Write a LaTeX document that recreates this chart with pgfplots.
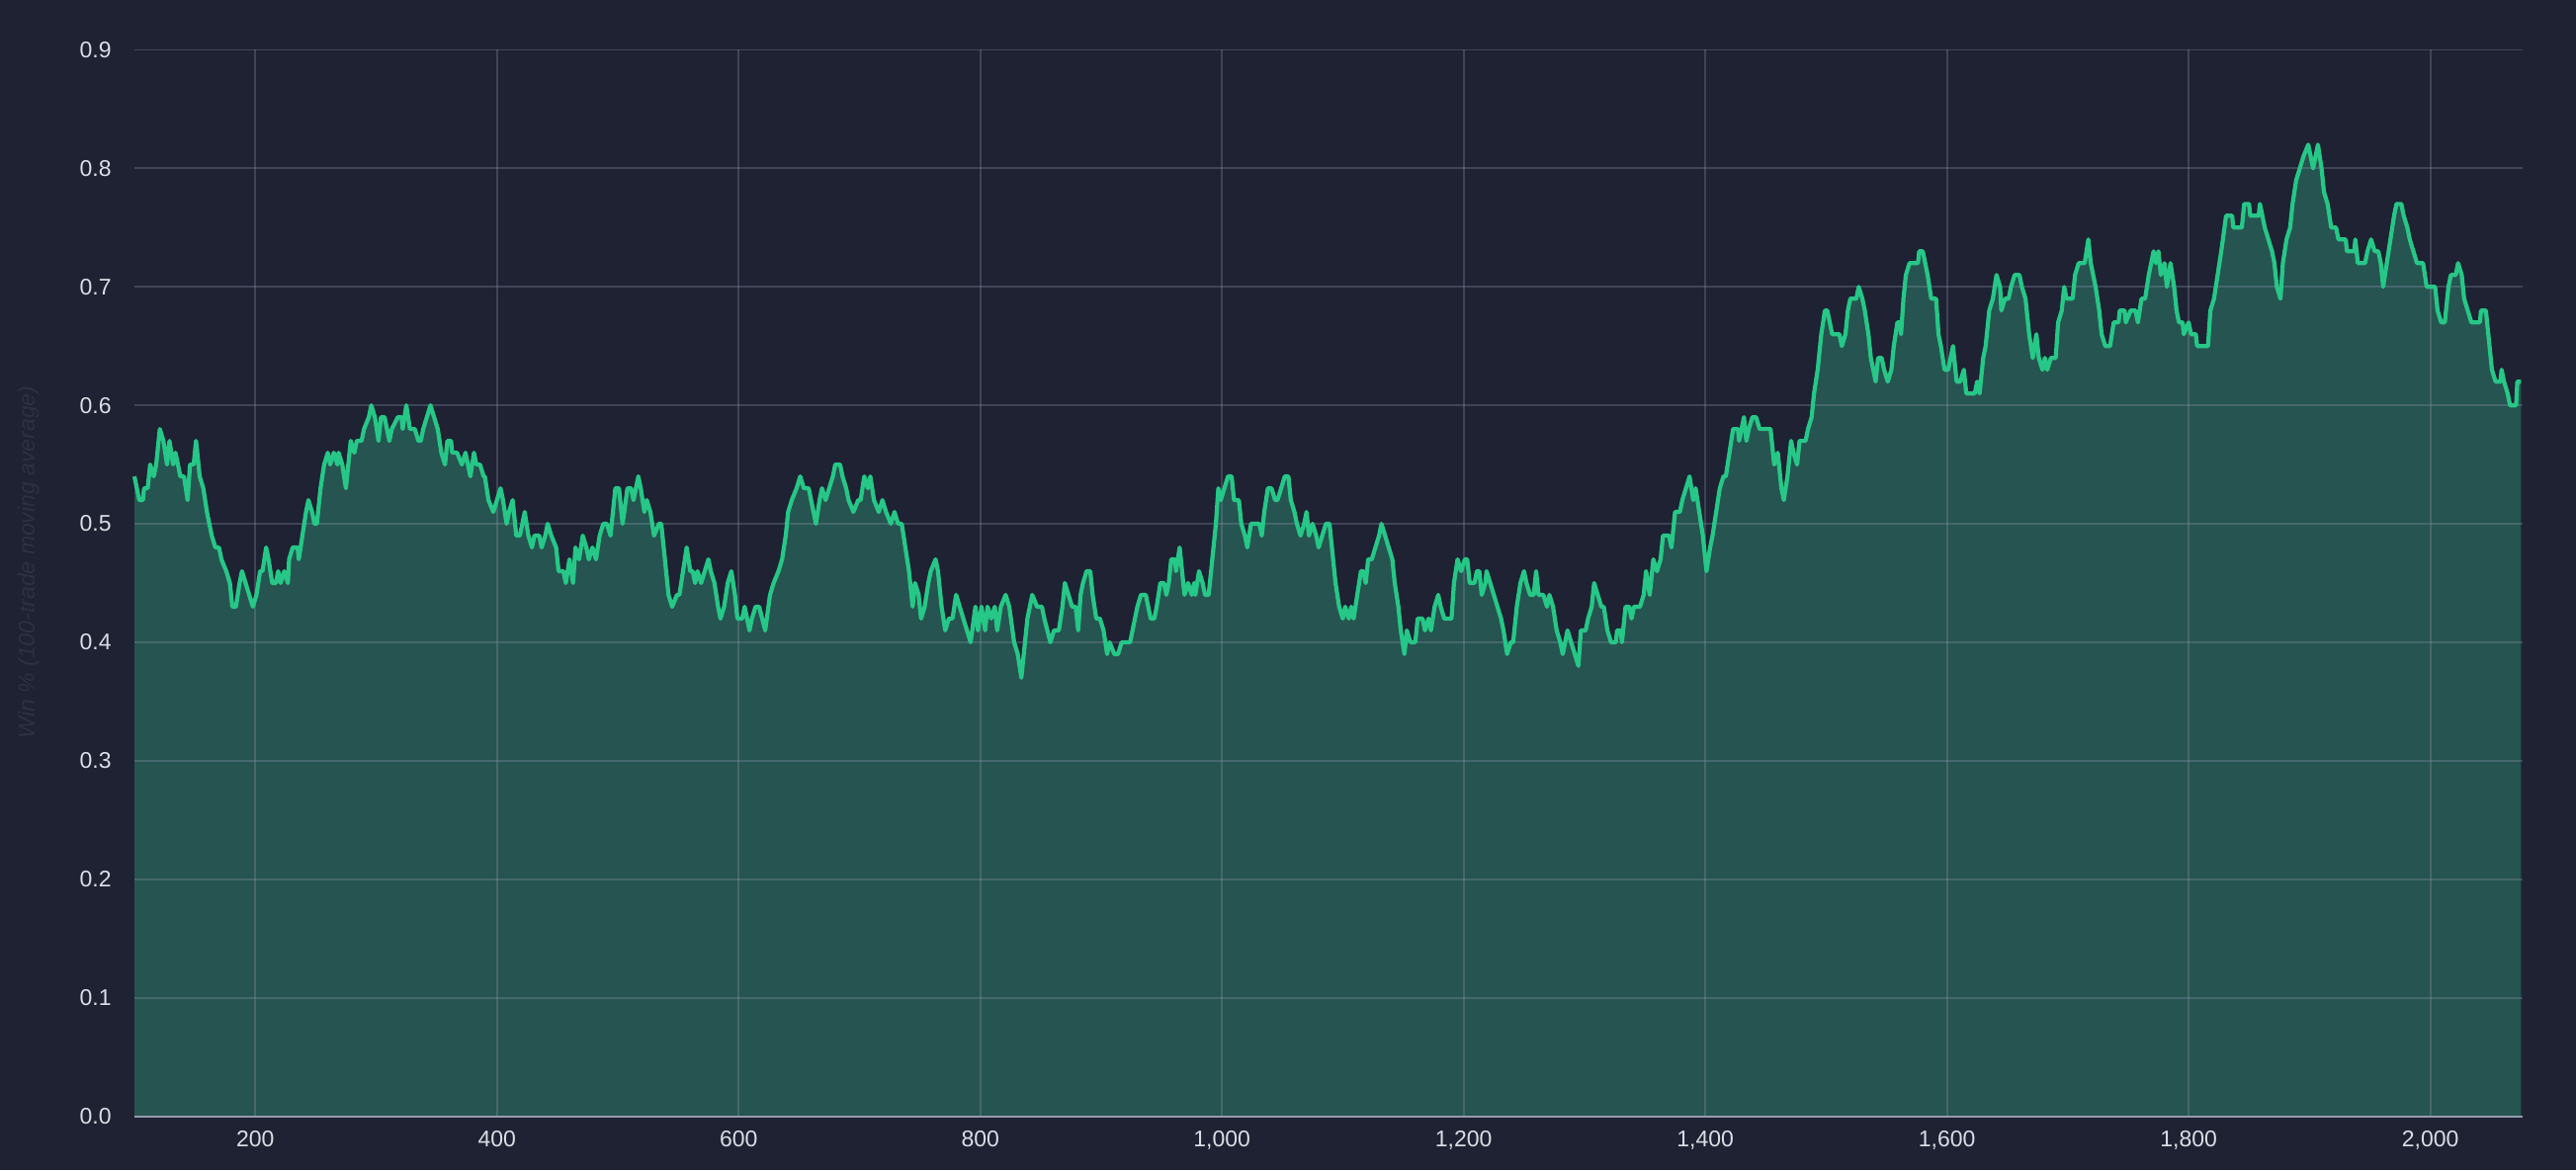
\documentclass[border=0pt]{standalone}
\usepackage{pgfplots}
\usepackage{pgfplotstable}
\pgfplotsset{compat=1.18}
\usepackage{fontspec}
\setmainfont{Liberation Sans}
\definecolor{bgc}{RGB}{30,34,51}
\definecolor{linec}{RGB}{38,199,135}
\definecolor{fillc}{RGB}{38,84,80}
\definecolor{gridc}{RGB}{150,157,182}
\definecolor{axisc}{RGB}{150,155,175}
\definecolor{tickc}{RGB}{218,222,230}
\definecolor{labc}{RGB}{44,49,67}
\pgfplotstableread[row sep=\\]{
x y\\
100 0.54\\ 104 0.52\\ 107 0.52\\ 108 0.53\\ 111 0.53\\ 113 0.55\\ 116 0.54\\ 118 0.55\\ 121 0.58\\ 124 0.57\\
127 0.55\\ 129 0.57\\ 132 0.55\\ 134 0.56\\ 136 0.55\\ 138 0.54\\ 141 0.54\\ 144 0.52\\ 146 0.55\\ 149 0.55\\
151 0.57\\ 154 0.54\\ 157 0.53\\ 160 0.51\\ 164 0.49\\ 167 0.48\\ 170 0.48\\ 172 0.47\\ 176 0.46\\ 179 0.45\\
181 0.43\\ 184 0.43\\ 187 0.45\\ 189 0.46\\ 192 0.45\\ 195 0.44\\ 198 0.43\\ 201 0.44\\ 204 0.46\\ 206 0.46\\
209 0.48\\ 211 0.47\\ 214 0.45\\ 217 0.45\\ 219 0.46\\ 221 0.45\\ 224 0.46\\ 227 0.45\\ 228 0.47\\ 231 0.48\\
235 0.48\\ 236 0.47\\ 239 0.49\\ 242 0.51\\ 244 0.52\\ 247 0.51\\ 249 0.50\\ 251 0.50\\ 254 0.53\\ 257 0.55\\
260 0.56\\ 262 0.55\\ 265 0.56\\ 268 0.55\\ 269 0.56\\ 272 0.55\\ 275 0.53\\ 277 0.55\\ 279 0.57\\ 282 0.56\\
284 0.57\\ 288 0.57\\ 290 0.58\\ 294 0.59\\ 296 0.60\\ 299 0.59\\ 302 0.57\\ 304 0.59\\ 307 0.59\\ 309 0.58\\
311 0.57\\ 313 0.58\\ 318 0.59\\ 321 0.59\\ 322 0.58\\ 325 0.60\\ 328 0.58\\ 332 0.58\\ 335 0.57\\ 337 0.57\\
339 0.58\\ 342 0.59\\ 345 0.60\\ 348 0.59\\ 351 0.58\\ 354 0.56\\ 357 0.55\\ 359 0.57\\ 362 0.57\\ 363 0.56\\
367 0.56\\ 371 0.55\\ 374 0.56\\ 378 0.54\\ 381 0.56\\ 383 0.55\\ 386 0.55\\ 389 0.54\\ 390 0.54\\ 393 0.52\\
397 0.51\\ 400 0.52\\ 403 0.53\\ 405 0.52\\ 408 0.50\\ 410 0.51\\ 413 0.52\\ 416 0.49\\ 419 0.49\\ 423 0.51\\
426 0.49\\ 429 0.48\\ 431 0.49\\ 435 0.49\\ 437 0.48\\ 440 0.49\\ 442 0.50\\ 445 0.49\\ 449 0.48\\ 451 0.46\\
455 0.46\\ 457 0.45\\ 460 0.47\\ 463 0.45\\ 465 0.48\\ 468 0.47\\ 471 0.49\\ 474 0.48\\ 476 0.47\\ 479 0.48\\
482 0.47\\ 485 0.49\\ 488 0.50\\ 491 0.50\\ 494 0.49\\ 498 0.53\\ 501 0.53\\ 504 0.50\\ 508 0.53\\ 511 0.53\\
513 0.52\\ 517 0.54\\ 519 0.53\\ 522 0.51\\ 524 0.52\\ 527 0.51\\ 530 0.49\\ 534 0.50\\ 536 0.50\\ 539 0.47\\
542 0.44\\ 545 0.43\\ 549 0.44\\ 551 0.44\\ 554 0.46\\ 557 0.48\\ 560 0.46\\ 562 0.46\\ 564 0.45\\ 566 0.46\\
569 0.45\\ 572 0.46\\ 575 0.47\\ 577 0.46\\ 580 0.45\\ 583 0.43\\ 585 0.42\\ 588 0.43\\ 591 0.45\\ 594 0.46\\
597 0.44\\ 599 0.42\\ 603 0.42\\ 605 0.43\\ 607 0.42\\ 609 0.41\\ 611 0.42\\ 614 0.43\\ 617 0.43\\ 622 0.41\\
626 0.44\\ 629 0.45\\ 633 0.46\\ 636 0.47\\ 639 0.49\\ 641 0.51\\ 644 0.52\\ 648 0.53\\ 651 0.54\\ 654 0.53\\
658 0.53\\ 660 0.52\\ 664 0.50\\ 667 0.52\\ 669 0.53\\ 672 0.52\\ 675 0.53\\ 678 0.54\\ 680 0.55\\ 684 0.55\\
686 0.54\\ 689 0.53\\ 691 0.52\\ 695 0.51\\ 699 0.52\\ 701 0.52\\ 704 0.54\\ 707 0.53\\ 709 0.54\\ 712 0.52\\
716 0.51\\ 719 0.52\\ 722 0.51\\ 726 0.50\\ 729 0.51\\ 732 0.50\\ 735 0.50\\ 738 0.48\\ 741 0.46\\ 744 0.43\\
746 0.45\\ 749 0.44\\ 751 0.42\\ 754 0.43\\ 757 0.45\\ 759 0.46\\ 763 0.47\\ 765 0.46\\ 768 0.43\\ 771 0.41\\
774 0.42\\ 777 0.42\\ 780 0.44\\ 783 0.43\\ 786 0.42\\ 789 0.41\\ 792 0.40\\ 796 0.43\\ 798 0.41\\ 801 0.43\\
804 0.41\\ 806 0.43\\ 809 0.42\\ 812 0.43\\ 814 0.41\\ 817 0.43\\ 821 0.44\\ 824 0.43\\ 828 0.40\\ 831 0.39\\
834 0.37\\ 836 0.39\\ 839 0.42\\ 843 0.44\\ 847 0.43\\ 851 0.43\\ 853 0.42\\ 858 0.40\\ 861 0.41\\ 865 0.41\\
868 0.43\\ 870 0.45\\ 873 0.44\\ 876 0.43\\ 879 0.43\\ 881 0.41\\ 883 0.44\\ 885 0.45\\ 888 0.46\\ 891 0.46\\
893 0.44\\ 896 0.42\\ 899 0.42\\ 902 0.41\\ 905 0.39\\ 907 0.40\\ 911 0.39\\ 914 0.39\\ 917 0.40\\ 924 0.40\\
926 0.41\\ 928 0.42\\ 930 0.43\\ 933 0.44\\ 937 0.44\\ 939 0.43\\ 941 0.42\\ 944 0.42\\ 946 0.43\\ 949 0.45\\
952 0.45\\ 954 0.44\\ 956 0.45\\ 958 0.47\\ 961 0.47\\ 962 0.46\\ 965 0.48\\ 967 0.46\\ 969 0.44\\ 972 0.45\\
975 0.44\\ 977 0.45\\ 978 0.44\\ 981 0.46\\ 984 0.45\\ 986 0.44\\ 989 0.44\\ 992 0.47\\ 995 0.50\\ 997 0.53\\
999 0.52\\ 1002 0.53\\ 1005 0.54\\ 1008 0.54\\ 1010 0.52\\ 1014 0.52\\ 1016 0.50\\ 1019 0.49\\ 1021 0.48\\ 1024 0.50\\
1031 0.50\\ 1033 0.49\\ 1035 0.51\\ 1038 0.53\\ 1041 0.53\\ 1044 0.52\\ 1046 0.52\\ 1049 0.53\\ 1052 0.54\\ 1055 0.54\\
1057 0.52\\ 1060 0.51\\ 1062 0.50\\ 1065 0.49\\ 1068 0.50\\ 1070 0.51\\ 1072 0.49\\ 1075 0.50\\ 1078 0.49\\ 1080 0.48\\
1083 0.49\\ 1086 0.50\\ 1089 0.50\\ 1091 0.48\\ 1094 0.45\\ 1097 0.43\\ 1100 0.42\\ 1102 0.43\\ 1105 0.42\\ 1107 0.43\\
1109 0.42\\ 1112 0.44\\ 1115 0.46\\ 1117 0.46\\ 1119 0.45\\ 1121 0.47\\ 1124 0.47\\ 1127 0.48\\ 1130 0.49\\ 1132 0.50\\
1135 0.49\\ 1138 0.48\\ 1141 0.47\\ 1143 0.45\\ 1146 0.43\\ 1148 0.41\\ 1151 0.39\\ 1153 0.41\\ 1156 0.40\\ 1160 0.40\\
1162 0.42\\ 1166 0.42\\ 1168 0.41\\ 1171 0.42\\ 1173 0.41\\ 1176 0.43\\ 1179 0.44\\ 1181 0.43\\ 1184 0.42\\ 1190 0.42\\
1192 0.45\\ 1195 0.47\\ 1198 0.46\\ 1201 0.47\\ 1203 0.47\\ 1205 0.45\\ 1209 0.45\\ 1211 0.46\\ 1213 0.46\\ 1215 0.44\\
1218 0.45\\ 1219 0.46\\ 1222 0.45\\ 1225 0.44\\ 1228 0.43\\ 1231 0.42\\ 1233 0.41\\ 1236 0.39\\ 1239 0.40\\ 1241 0.40\\
1244 0.43\\ 1247 0.45\\ 1250 0.46\\ 1252 0.45\\ 1255 0.44\\ 1258 0.44\\ 1260 0.46\\ 1262 0.44\\ 1266 0.44\\ 1269 0.43\\
1271 0.44\\ 1274 0.43\\ 1277 0.41\\ 1280 0.40\\ 1282 0.39\\ 1286 0.41\\ 1289 0.40\\ 1292 0.39\\ 1295 0.38\\ 1297 0.41\\
1301 0.41\\ 1303 0.42\\ 1306 0.43\\ 1308 0.45\\ 1311 0.44\\ 1314 0.43\\ 1316 0.43\\ 1319 0.41\\ 1322 0.40\\ 1326 0.40\\
1327 0.41\\ 1330 0.41\\ 1331 0.40\\ 1334 0.43\\ 1337 0.43\\ 1339 0.42\\ 1341 0.43\\ 1346 0.43\\ 1349 0.44\\ 1351 0.46\\
1354 0.44\\ 1357 0.47\\ 1360 0.46\\ 1363 0.47\\ 1365 0.49\\ 1370 0.49\\ 1372 0.48\\ 1375 0.51\\ 1379 0.51\\ 1381 0.52\\
1384 0.53\\ 1387 0.54\\ 1390 0.52\\ 1392 0.53\\ 1395 0.51\\ 1398 0.49\\ 1401 0.46\\ 1404 0.48\\ 1406 0.49\\ 1409 0.51\\
1412 0.53\\ 1415 0.54\\ 1417 0.54\\ 1420 0.56\\ 1423 0.58\\ 1427 0.58\\ 1428 0.57\\ 1432 0.59\\ 1434 0.57\\ 1436 0.58\\
1439 0.59\\ 1442 0.59\\ 1445 0.58\\ 1454 0.58\\ 1457 0.55\\ 1460 0.56\\ 1463 0.53\\ 1465 0.52\\ 1468 0.54\\ 1471 0.57\\
1473 0.56\\ 1476 0.55\\ 1478 0.57\\ 1483 0.57\\ 1485 0.58\\ 1488 0.59\\ 1490 0.61\\ 1493 0.63\\ 1496 0.66\\ 1499 0.68\\
1501 0.68\\ 1503 0.67\\ 1505 0.66\\ 1511 0.66\\ 1513 0.65\\ 1516 0.66\\ 1518 0.68\\ 1520 0.69\\ 1525 0.69\\ 1527 0.70\\
1530 0.69\\ 1532 0.68\\ 1535 0.66\\ 1537 0.64\\ 1541 0.62\\ 1543 0.64\\ 1546 0.64\\ 1548 0.63\\ 1551 0.62\\ 1554 0.63\\
1556 0.65\\ 1559 0.67\\ 1561 0.67\\ 1562 0.66\\ 1564 0.69\\ 1566 0.71\\ 1569 0.72\\ 1576 0.72\\ 1577 0.73\\ 1580 0.73\\
1582 0.72\\ 1584 0.71\\ 1587 0.69\\ 1591 0.69\\ 1593 0.66\\ 1595 0.65\\ 1598 0.63\\ 1601 0.63\\ 1603 0.64\\ 1605 0.65\\
1608 0.62\\ 1611 0.62\\ 1614 0.63\\ 1616 0.61\\ 1623 0.61\\ 1625 0.62\\ 1627 0.61\\ 1630 0.64\\ 1632 0.65\\ 1635 0.68\\
1638 0.69\\ 1641 0.71\\ 1644 0.70\\ 1645 0.68\\ 1648 0.69\\ 1651 0.69\\ 1653 0.70\\ 1656 0.71\\ 1660 0.71\\ 1662 0.70\\
1665 0.69\\ 1668 0.66\\ 1671 0.64\\ 1674 0.66\\ 1676 0.64\\ 1679 0.63\\ 1681 0.64\\ 1683 0.63\\ 1686 0.64\\ 1690 0.64\\
1692 0.67\\ 1695 0.68\\ 1697 0.70\\ 1699 0.69\\ 1704 0.69\\ 1706 0.71\\ 1709 0.72\\ 1714 0.72\\ 1717 0.74\\ 1719 0.72\\
1721 0.71\\ 1723 0.70\\ 1726 0.68\\ 1728 0.66\\ 1731 0.65\\ 1735 0.65\\ 1738 0.67\\ 1742 0.67\\ 1743 0.68\\ 1747 0.68\\
1748 0.67\\ 1752 0.68\\ 1756 0.68\\ 1758 0.67\\ 1761 0.69\\ 1764 0.69\\ 1767 0.71\\ 1769 0.72\\ 1771 0.73\\ 1773 0.72\\
1775 0.73\\ 1777 0.71\\ 1780 0.72\\ 1782 0.70\\ 1785 0.72\\ 1788 0.70\\ 1790 0.68\\ 1792 0.67\\ 1795 0.67\\ 1796 0.66\\
1800 0.67\\ 1802 0.66\\ 1806 0.66\\ 1807 0.65\\ 1816 0.65\\ 1818 0.68\\ 1821 0.69\\ 1824 0.71\\ 1827 0.73\\ 1831 0.76\\
1836 0.76\\ 1837 0.75\\ 1844 0.75\\ 1846 0.77\\ 1850 0.77\\ 1851 0.76\\ 1858 0.76\\ 1859 0.77\\ 1861 0.76\\ 1863 0.75\\
1866 0.74\\ 1869 0.73\\ 1871 0.72\\ 1873 0.70\\ 1876 0.69\\ 1878 0.72\\ 1881 0.74\\ 1884 0.75\\ 1886 0.77\\ 1889 0.79\\
1892 0.80\\ 1895 0.81\\ 1899 0.82\\ 1901 0.81\\ 1903 0.80\\ 1905 0.81\\ 1907 0.82\\ 1910 0.80\\ 1912 0.78\\ 1915 0.77\\
1918 0.75\\ 1922 0.75\\ 1924 0.74\\ 1930 0.74\\ 1931 0.73\\ 1937 0.73\\ 1938 0.74\\ 1940 0.72\\ 1946 0.72\\ 1948 0.73\\
1951 0.74\\ 1954 0.73\\ 1957 0.73\\ 1959 0.72\\ 1961 0.70\\ 1964 0.72\\ 1967 0.74\\ 1970 0.76\\ 1972 0.77\\ 1976 0.77\\
1978 0.76\\ 1981 0.75\\ 1983 0.74\\ 1986 0.73\\ 1989 0.72\\ 1994 0.72\\ 1997 0.70\\ 2004 0.70\\ 2006 0.68\\ 2009 0.67\\
2012 0.67\\ 2015 0.70\\ 2017 0.71\\ 2021 0.71\\ 2023 0.72\\ 2026 0.71\\ 2028 0.69\\ 2031 0.68\\ 2034 0.67\\ 2041 0.67\\
2042 0.68\\ 2046 0.68\\ 2049 0.65\\ 2051 0.63\\ 2054 0.62\\ 2058 0.62\\ 2059 0.63\\ 2061 0.62\\ 2064 0.61\\ 2066 0.60\\
2071 0.60\\ 2072 0.62\\ 2075 0.62\\
}\winrate
\begin{document}
\begin{tikzpicture}
\fill[bgc] (-68pt,-27.25pt) rectangle (1235pt,564.75pt);
\node[rotate=90, anchor=west, text=labc, inner sep=0pt, font=\fontsize{11.5}{13}\selectfont\itshape] at (-53.5pt,191pt) {Win \% (100-trade moving average)};
\begin{axis}[
  at={(0pt,0pt)}, anchor=south west,
  scale only axis, width=1207.75pt, height=539.5pt,
  xmin=100, xmax=2076, ymin=0, ymax=0.9,
  xtick={200,400,...,2000},
  ytick={0,0.1,...,0.9},
  set layers, axis on top,
  axis x line*=bottom, axis y line*=left,
  x axis line style={draw=axisc, line width=1pt, -},
  y axis line style={draw=none},
  major tick length=0pt,
  tick style={draw=none},
  grid=major,
  major grid style={draw=gridc, line width=0.9pt, opacity=0.28},
  scaled ticks=false,
  tick label style={font=\fontsize{11.5}{13}\selectfont, text=tickc, /pgf/number format/assume math mode=true},
  xticklabel style={inner sep=0pt, anchor=north, yshift=-7.3pt, /pgf/number format/1000 sep={,}},
  yticklabel style={inner sep=0pt, anchor=east, xshift=-11.5pt, /pgf/number format/.cd, fixed, fixed zerofill, precision=1},
  clip=true,
]
\addplot[draw=none, fill=fillc] table[x=x, y=y] {\winrate} \closedcycle;
\addplot[on layer=axis foreground, draw=linec, line width=2.1pt, line join=round] table[x=x, y=y] {\winrate};
\end{axis}
\end{tikzpicture}
\end{document}
